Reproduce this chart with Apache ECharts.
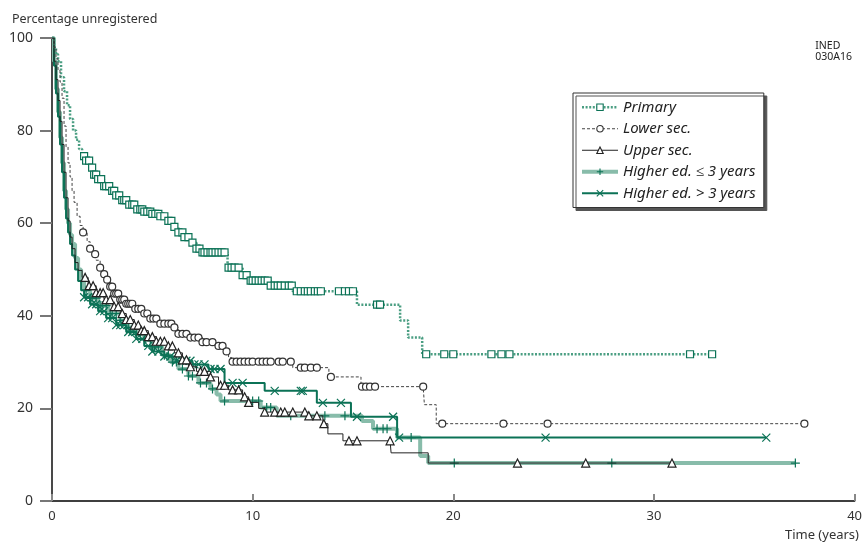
<!DOCTYPE html>
<html>
<head>
<meta charset="utf-8">
<script src="https://cdn.jsdelivr.net/npm/echarts@6/dist/echarts.min.js"></script>
<style>
  html, body { margin: 0; padding: 0; background: #fff; }
  #chart { width: 865px; height: 542px; }
</style>
</head>
<body>
<div id="chart"></div>
<script>
// Kaplan-Meier curves: [time, % unregistered] after each drop, plus censoring times
const xTicks = [0, 10, 20, 30, 40];
const yTicks = [0, 20, 40, 60, 80, 100];

const primaryEvents = [[0,100],[0.1,98],[0.2,96.5],[0.3,95],[0.45,91.5],[0.6,88.5],[0.75,85.5],[0.9,82.5],[1.05,80],[1.2,78],[1.35,76],[1.5,74.5],[1.7,73.5],[1.9,72],[2.1,70.5],[2.3,69.5],[2.6,68],[2.9,67],[3.2,66],[3.5,65],[3.8,64],[4.2,63],[4.6,62.5],[5.0,62],[5.4,61.5],[5.7,60.5],[6.0,59.2],[6.3,58],[6.6,57],[6.9,55.8],[7.2,54.5],[7.5,53.7],[8.75,50.4],[9.5,48.8],[9.8,47.6],[10.9,46.5],[12.0,45.3],[15.2,42.4],[17.35,39],[17.75,35.3],[18.45,31.7]];
const primaryCens = [1.6,1.7,1.85,2.0,2.1,2.2,2.3,2.45,2.6,2.7,2.85,3.0,3.1,3.2,3.35,3.5,3.6,3.7,3.85,4.0,4.1,4.25,4.4,4.5,4.6,4.75,4.9,5.0,5.15,5.3,5.4,5.6,5.8,5.95,6.1,6.3,6.5,6.6,6.8,7.0,7.2,7.35,7.5,7.6,7.75,7.9,8.0,8.15,8.3,8.45,8.6,8.8,8.95,9.1,9.3,9.5,9.7,9.9,10.0,10.15,10.3,10.45,10.6,10.75,10.9,11.1,11.25,11.4,11.6,11.8,11.95,12.2,12.4,12.6,12.75,12.9,13.1,13.25,13.4,14.3,14.6,14.8,15.0,16.2,16.35,18.65,19.55,20.0,21.9,22.4,22.8,31.8,32.9];

const lowerEvents = [[0,100],[0.1,98],[0.2,95.5],[0.3,93],[0.4,90.5],[0.5,87],[0.6,81],[0.7,76.5],[0.8,73],[0.9,70],[1.0,67],[1.1,64.5],[1.25,61.5],[1.4,59.5],[1.55,58],[1.75,56],[1.9,54.5],[2.05,53.3],[2.2,52],[2.4,50.4],[2.55,49],[2.7,47.8],[2.9,46.3],[3.1,44.8],[3.4,43.5],[3.7,42.6],[4.1,41.5],[4.5,40.5],[4.9,39.4],[5.3,38.3],[6.0,37.5],[6.3,36.1],[6.9,35.3],[7.5,34.3],[8.1,33.5],[8.6,32.3],[8.8,31],[8.95,30.1],[12.0,28.8],[13.8,26.8],[15.4,24.7],[18.56,20.8],[19.15,16.7]];
const lowerCens = [1.55,1.9,2.15,2.4,2.6,2.75,2.9,3.0,3.1,3.2,3.3,3.4,3.5,3.6,3.7,3.8,3.9,4.0,4.15,4.3,4.45,4.6,4.75,4.9,5.05,5.2,5.4,5.6,5.8,5.95,6.1,6.3,6.5,6.7,6.9,7.1,7.3,7.5,7.7,8.0,8.3,8.5,8.7,9.0,9.2,9.4,9.6,9.8,10.0,10.3,10.5,10.7,10.9,11.3,11.5,11.9,12.4,12.6,12.9,13.2,13.9,15.45,15.65,15.85,16.1,18.5,19.45,22.5,24.7,37.5];

const upperEvents = [[0,100],[0.1,95],[0.2,91],[0.3,86.5],[0.4,82],[0.5,77],[0.6,71],[0.7,65.5],[0.8,60.5],[0.9,57],[1.0,54.5],[1.15,51.5],[1.3,49.8],[1.5,48.3],[1.8,46.5],[2.2,45],[2.6,43.5],[3.0,42],[3.4,40.5],[3.7,39.2],[4.1,38],[4.4,36.8],[4.8,35.5],[5.2,34.5],[5.7,33.5],[6.1,32],[6.5,30.5],[6.8,29],[7.2,28],[7.9,26.8],[8.3,25],[8.8,24],[9.5,22.5],[9.8,21.3],[10.3,20],[10.6,19.2],[12.8,18.4],[13.5,16.7],[13.75,14.5],[14.5,13],[16.9,10.4],[18.75,8.2]];
const upperCens = [1.65,1.85,2.05,2.2,2.4,2.55,2.7,2.9,3.1,3.3,3.5,3.7,3.9,4.1,4.3,4.45,4.6,4.8,5.0,5.2,5.4,5.6,5.8,6.0,6.3,6.5,6.7,6.9,7.4,7.6,7.9,8.4,8.6,9.0,9.3,9.6,9.8,10.6,11.1,11.4,11.6,12.0,12.6,12.8,13.2,13.55,14.8,15.2,16.85,23.2,26.6,30.9];

const highLowEvents = [[0,100],[0.1,95],[0.2,89],[0.3,84],[0.4,78.5],[0.5,73],[0.6,67],[0.7,63],[0.8,60],[0.9,57.5],[1.0,55.5],[1.15,52.5],[1.3,50],[1.45,47.5],[1.6,45.5],[1.9,43.8],[2.3,42.2],[2.8,40.5],[3.4,39],[3.8,37.5],[4.2,36],[4.6,34.8],[5.0,33.3],[5.5,31.5],[5.9,30],[6.3,28.5],[6.8,27],[7.3,25.5],[7.9,24.2],[8.2,23],[8.4,21.6],[10.4,20.2],[11.2,18.4],[15.45,17.3],[16.0,15.6],[17.2,13.7],[18.35,9.7],[18.75,8.2]];
const highLowCens = [1.7,1.9,2.0,2.2,2.4,2.5,2.7,2.9,3.0,3.2,3.4,3.6,3.8,4.0,4.2,4.4,4.6,4.9,5.1,5.3,5.6,5.8,6.0,6.2,6.5,6.8,7.0,7.4,7.7,8.0,8.6,10.0,10.3,10.7,10.9,11.9,13.6,14.6,16.2,16.5,16.7,17.9,20.05,27.9,37.05];

const highHighEvents = [[0,100],[0.1,94],[0.2,88],[0.3,83],[0.4,77],[0.5,71],[0.6,65.5],[0.7,61],[0.8,58],[0.9,55.5],[1.0,53],[1.15,50],[1.3,47.5],[1.45,45.5],[1.6,44],[1.9,42.5],[2.3,41],[2.7,39.5],[3.2,38],[3.7,36.5],[4.2,35],[4.6,33.5],[5.0,32.3],[5.6,31.2],[6.2,30.3],[7.0,29.5],[7.8,28.5],[8.6,25.5],[10.6,23.8],[13.2,21.2],[14.9,18.2],[17.2,13.7]];
const highHighCens = [1.6,1.8,2.0,2.2,2.4,2.6,2.8,3.0,3.2,3.4,3.6,3.8,4.0,4.2,4.5,4.8,5.0,5.3,5.6,5.9,6.2,6.5,6.7,6.9,7.1,7.3,7.6,7.9,8.1,8.4,9.0,9.5,11.1,12.4,12.5,13.5,14.4,15.2,17.0,17.3,24.6,35.6];

const FONT = 'Noto Sans';
const DARK_GREEN = '#0b7256';
const LIGHT_GREEN = '#88bcaa';
const MID_GREEN = '#4a9e82';
const PLUS = 'path://M5,0L5,10M0,5L10,5';
const CROSS = 'path://M0,0L10,10M10,0L0,10';

function levelAt(events, t) {
  let v = events[0][1];
  for (const e of events) { if (e[0] <= t) v = e[1]; }
  return v;
}

// events without a marker, censored cases with the series' marker
function kmData(events, cens) {
  const pts = events.map(e => ({ value: [e[0], e[1]], symbol: 'none', o: 0 }));
  cens.forEach(t => pts.push({ value: [t, levelAt(events, t)], o: 1 }));
  pts.sort((a, b) => a.value[0] - b.value[0] || a.o - b.o);
  return pts.map(p => p.symbol ? { value: p.value, symbol: p.symbol } : { value: p.value });
}

function km(name, events, cens, lineStyle, symbol, symbolSize, markColor, z) {
  return {
    name: name,
    type: 'line',
    step: 'end',
    z: z,
    data: kmData(events, cens),
    symbol: symbol,
    symbolSize: symbolSize,
    showSymbol: true,
    lineStyle: lineStyle,
    itemStyle: { color: '#fff', borderColor: markColor, borderWidth: 1.2 },
    emphasis: { disabled: true }
  };
}

function legendItem(name, lineStyle, markColor) {
  return { name: name, lineStyle: lineStyle, itemStyle: { color: '#fff', borderColor: markColor, borderWidth: 1.1 } };
}

const lines = {
  primary: { color: MID_GREEN, width: 2.5, type: [2, 1.6] },
  lower: { color: '#444', width: 1, type: [3, 2] },
  upper: { color: '#222', width: 1 },
  highLow: { color: LIGHT_GREEN, width: 4 },
  highHigh: { color: DARK_GREEN, width: 2 }
};

const chart = echarts.init(document.getElementById('chart'));

chart.setOption({
  animation: false,
  backgroundColor: '#fff',
  textStyle: { fontFamily: FONT },
  title: [
    { text: 'Percentage unregistered', left: 7, top: 8, textStyle: { fontFamily: FONT, fontSize: 12.5, fontWeight: 'normal', color: '#333' } },
    { text: 'Time (years)', right: 1, top: 524, textStyle: { fontFamily: FONT, fontSize: 13, fontWeight: 'normal', color: '#333' } }
  ],
  graphic: [
    { type: 'text', right: 13, top: 41, style: { text: 'INED\n030A16', align: 'right', fontFamily: FONT, fontSize: 10.5, lineHeight: 11, fill: '#222' } }
  ],
  legend: {
    orient: 'vertical',
    left: 573,
    top: 93,
    data: [
      legendItem('Primary', lines.primary, DARK_GREEN),
      legendItem('Lower sec.', lines.lower, '#333'),
      legendItem('Upper sec.', lines.upper, '#222'),
      legendItem('Higher ed. \u2264 3 years', lines.highLow, DARK_GREEN),
      legendItem('Higher ed. > 3 years', lines.highHigh, DARK_GREEN)
    ],
    itemWidth: 36,
    itemHeight: 8,
    itemGap: 5,
    padding: [6, 8, 6, 7],
    backgroundColor: '#fff',
    borderColor: '#333',
    borderWidth: 1,
    shadowColor: '#555',
    shadowOffsetX: 3,
    shadowOffsetY: 3,
    shadowBlur: 0,
    selectedMode: false,
    textStyle: { fontFamily: FONT, fontSize: 15, fontStyle: 'italic', color: '#222', lineHeight: 16.5 }
  },
  grid: { left: 52, right: 9, top: 38, bottom: 41 },
  xAxis: [
    {
      type: 'value', min: xTicks[0], max: xTicks[xTicks.length - 1], interval: 10, position: 'bottom',
      axisLine: { show: true, lineStyle: { color: '#333', width: 1.5 } },
      axisTick: { show: true, inside: true, length: 7, lineStyle: { color: '#888', width: 2 } },
      axisLabel: { color: '#333', fontSize: 13, margin: 9, fontFamily: FONT },
      splitLine: { show: false }
    },
    {
      type: 'value', min: 0, max: 40, position: 'top',
      axisLine: { show: true, lineStyle: { color: '#333', width: 1.5 } },
      axisTick: { show: false }, axisLabel: { show: false }, splitLine: { show: false }
    }
  ],
  yAxis: [
    {
      type: 'value', min: yTicks[0], max: yTicks[yTicks.length - 1], interval: 20, position: 'left',
      axisLine: { show: true, lineStyle: { color: '#8a8a8a', width: 2 } },
      axisTick: { show: true, length: 12, lineStyle: { color: '#555', width: 1.5 } },
      axisLabel: { color: '#333', fontSize: 14, margin: 19, fontFamily: FONT },
      splitLine: { show: false }
    },
    {
      type: 'value', min: 0, max: 100, interval: 20, position: 'right',
      axisLine: { show: true, lineStyle: { color: '#333', width: 1.5 } },
      axisTick: { show: true, inside: true, length: 12, lineStyle: { color: '#777', width: 2 } },
      axisLabel: { show: false }, splitLine: { show: false }
    }
  ],
  series: [
    km('Primary', primaryEvents, primaryCens, lines.primary, 'rect', 7, DARK_GREEN, 3),
    km('Lower sec.', lowerEvents, lowerCens, lines.lower, 'circle', 7, '#333', 3),
    km('Upper sec.', upperEvents, upperCens, lines.upper, 'triangle', 8, '#222', 3),
    km('Higher ed. \u2264 3 years', highLowEvents, highLowCens, lines.highLow, PLUS, 9, DARK_GREEN, 1),
    km('Higher ed. > 3 years', highHighEvents, highHighCens, lines.highHigh, CROSS, 8, DARK_GREEN, 2)
  ]
});
</script>
</body>
</html>
